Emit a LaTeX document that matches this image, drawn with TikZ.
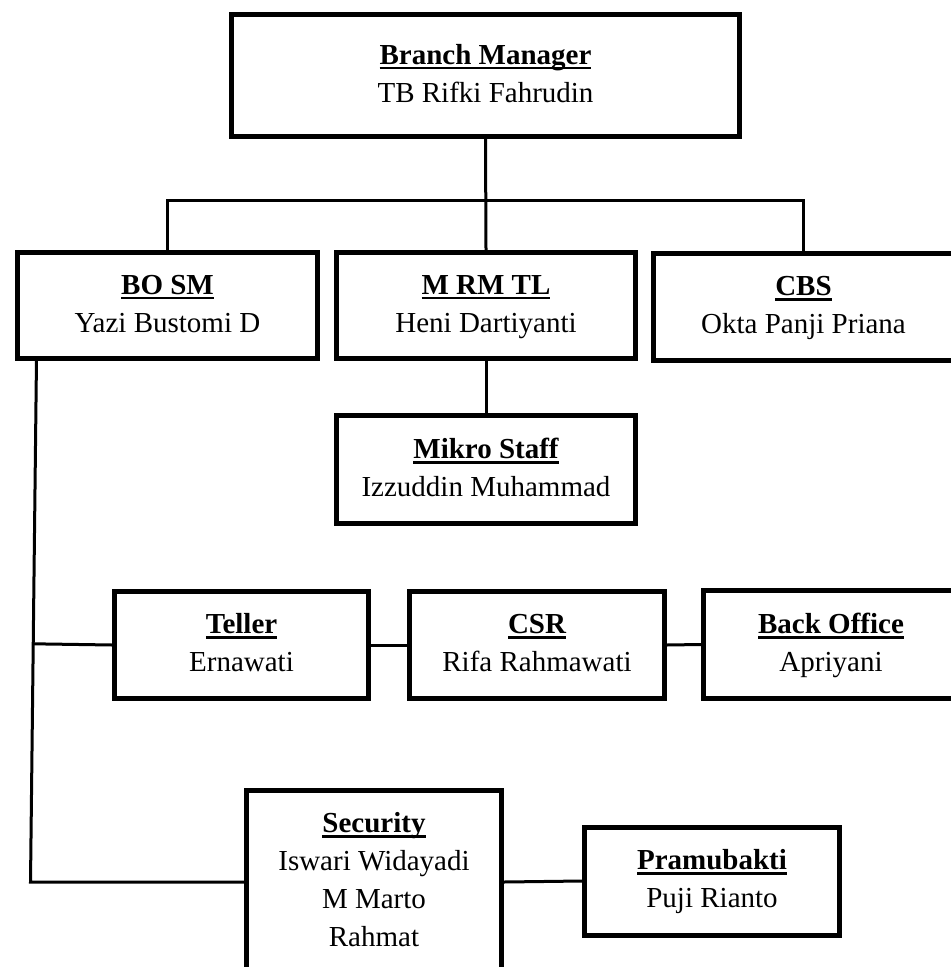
\documentclass[tikz,border=0pt]{standalone}
\usepackage{fontspec}
\setmainfont{Liberation Serif}
\newcommand{\jabatan}[1]{\strut\textbf{\setbox0\hbox{#1}\rlap{\vrule width\wd0 height -1.4pt depth 2.7pt}\box0}}
\begin{document}
\begin{tikzpicture}[x=0.5pt, y=-0.5pt,
    kotak/.style={draw, line width=2.5pt, rectangle, inner sep=0pt, align=center,
        font=\fontsize{14.5}{19}\selectfont, execute at end node=\strut},
    garis/.style={line width=1.5pt}]
    \useasboundingbox (0,0) rectangle (950,967);
    % boxes
    \node[kotak, minimum width=254pt, minimum height=61pt] (bm) at (485.5,75.5)
        {\jabatan{Branch Manager}\\TB Rifki Fahrudin};
    \node[kotak, minimum width=150pt, minimum height=53pt] (bosm) at (167.5,305.5)
        {\jabatan{BO SM}\\Yazi Bustomi D};
    \node[kotak, minimum width=149.5pt, minimum height=53pt] (mrm) at (486,305.5)
        {\jabatan{M RM TL}\\Heni Dartiyanti};
    \node[kotak, minimum width=150pt, minimum height=53.5pt] (cbs) at (803.5,307)
        {\jabatan{CBS}\\Okta Panji Priana};
    \node[kotak, minimum width=149.5pt, minimum height=54pt] (mikro) at (486,469.5)
        {\jabatan{Mikro Staff}\\Izzuddin Muhammad};
    \node[kotak, minimum width=127pt, minimum height=53.5pt] (teller) at (241.5,645)
        {\jabatan{Teller}\\Ernawati};
    \node[kotak, minimum width=127.5pt, minimum height=53.5pt] (csr) at (537,645)
        {\jabatan{CSR}\\Rifa Rahmawati};
    \node[kotak, minimum width=127.5pt, minimum height=54pt] (bo) at (831,644.5)
        {\jabatan{Back Office}\\Apriyani};
    \node[kotak, minimum width=127.5pt, minimum height=91.5pt] (security) at (374,882)
        {\jabatan{Security}\\Iswari Widayadi\\M Marto\\Rahmat};
    \node[kotak, minimum width=127.5pt, minimum height=54pt] (pram) at (712,881)
        {\jabatan{Pramubakti}\\Puji Rianto};
    % connectors
    \coordinate (split) at (485.5,200.5);
    \draw[garis] (bm.south) -- (mrm.north);
    \draw[garis] (bosm.north) |- (split) -| (cbs.north);
    \draw[garis] (mrm.south) -- (mikro.north);
    \coordinate (spinetop) at (36.5,358.5);
    \coordinate (spinebot) at (30.5,882);
    \path (spinetop) -- (spinebot) coordinate[pos=0.545] (tjoin);
    \draw[garis] (spinetop) -- (spinebot) -- (security.west);
    \draw[garis] (tjoin) -- (teller.west);
    \draw[garis] (teller.east) -- (csr.west);
    \draw[garis] (csr.east) -- (bo.west);
    \draw[garis] (security.east) -- (pram.west);
\end{tikzpicture}
\end{document}
